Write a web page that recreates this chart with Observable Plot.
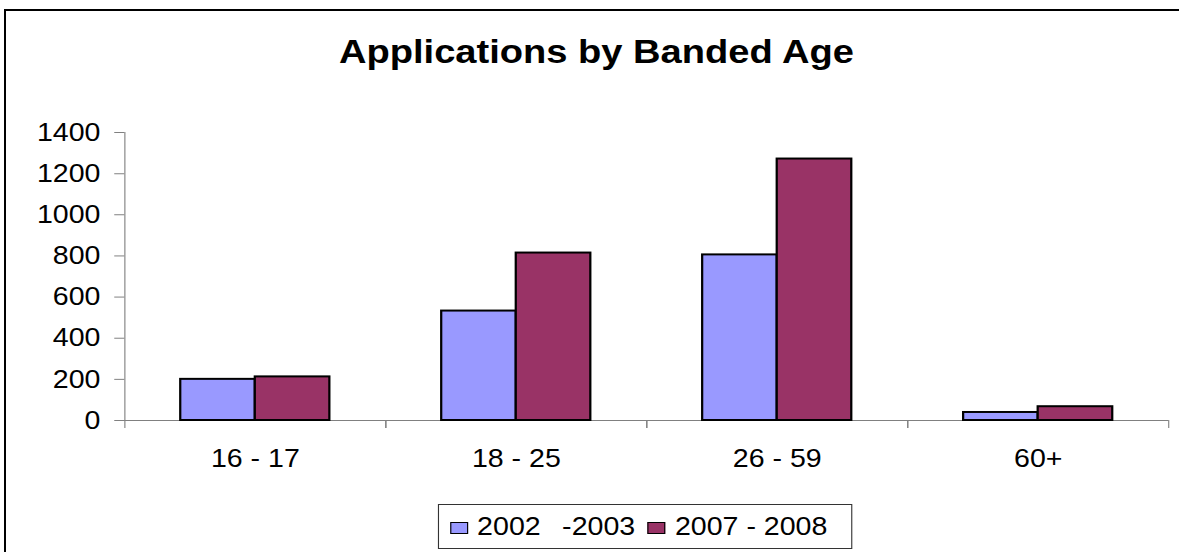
<!DOCTYPE html>
<html>
<head>
<meta charset="utf-8">
<script src="https://cdn.jsdelivr.net/npm/d3@7"></script>
<script src="https://cdn.jsdelivr.net/npm/@observablehq/plot@0.6"></script>
<style>
  html, body { margin: 0; padding: 0; background: #fff; overflow: hidden; }
  body { position: relative; width: 1179px; height: 552px; }
  /* outer chart frame; its right and bottom edges run past the page */
  #border {
    position: absolute;
    left: 4px; top: 9px;
    width: 1400px; height: 800px;
    border-left: 2.6px solid #000;
    border-top: 2.5px solid #000;
  }
  /* The figure is laid out on a narrower canvas and widened horizontally */
  #figure {
    position: absolute;
    left: 0; top: 0;
    width: 1070px;
    height: 552px;
    transform: scaleX(1.12);
    transform-origin: 0 0;
    font-family: "Liberation Sans", Arial, sans-serif;
    color: #000;
  }
  #title {
    height: 100px;
    box-sizing: border-box;
    padding-top: 34.2px;
    padding-left: 12px;
    width: 1053px;
    text-align: center;
    font-size: 34px;
    line-height: 34px;
    font-weight: bold;
    white-space: nowrap;
  }
  #chart svg { display: block; }
  #chart svg text { fill: #000; }
  #legend {
    position: absolute;
    left: 391px; top: 504px;
    width: 370px; height: 45px;
    box-sizing: border-box;
    border: 1px solid #333;
    display: flex;
    align-items: center;
    font-size: 25.5px;
    white-space: pre;
    padding-left: 9.5px;
  }
  #legend .sw {
    display: inline-block;
    width: 16px; height: 12px;
    box-sizing: border-box;
    border: 1.5px solid #000;
    margin-right: 8.5px;
    margin-top: 3px;
  }
  #legend .item { display: flex; align-items: center; margin-right: 11px; }
  #legend .item:first-child .label { word-spacing: 2.5px; }
</style>
</head>
<body>
<div id="border"></div>
<div id="figure">
  <div id="title">Applications by Banded Age</div>
  <div id="chart"></div>
  <div id="legend"></div>
</div>
<script>
// Age bands and the two reporting periods
const ages = ["16 - 17", "18 - 25", "26 - 59", "60+"];
const periods = ["2002  -2003", "2007 - 2008"];
const apps2002 = [200, 532, 805, 39];
const apps2007 = [212, 814, 1271, 67];
const yTicks = [0, 200, 400, 600, 800, 1000, 1200, 1400];
const periodColors = ["#9999FF", "#993366"];

// Each bar occupies one slot inside its age band, with 0.75 slot of space on either side
const sideGap = 0.75;
const rows = ages.flatMap((age, i) =>
  [apps2002, apps2007].map((values, slot) => ({
    age, period: periods[slot], slot, value: values[i]
  }))
);

const axisGrey = "#808080";

const chart = Plot.plot({
  width: 1053,
  height: 380,
  marginTop: 32,
  marginBottom: 60,
  marginLeft: 110.7,
  marginRight: 10.1,
  style: {
    fontFamily: "'Liberation Sans', Arial, sans-serif",
    fontSize: "25.5px",
    color: axisGrey,
    background: "transparent"
  },
  fx: { domain: ages, padding: 0, label: null, tickSize: 0, tickPadding: 28 },
  x: { domain: [-sideGap, periods.length + sideGap], axis: null },
  y: {
    domain: [0, 1400], ticks: yTicks, tickFormat: d3.format("d"),
    tickSize: 9, tickPadding: 12.8, line: true, label: null
  },
  color: { domain: periods, range: periodColors },
  marks: [
    Plot.ruleY([0], { stroke: axisGrey, strokeWidth: 1 }),
    // category divider ticks along the baseline
    Plot.ruleX([-sideGap, periods.length + sideGap], {
      y1: 0, y2: 0, insetBottom: -8, stroke: axisGrey, strokeWidth: 1
    }),
    Plot.rect(rows, {
      fx: "age",
      x1: "slot",
      x2: d => d.slot + 1,
      y1: 0,
      y2: "value",
      fill: "period",
      stroke: "#000",
      strokeWidth: 2
    })
  ]
});
document.getElementById("chart").appendChild(chart);

// Legend beneath the plot
const legend = d3.select("#legend");
periods.forEach((p, i) => {
  const item = legend.append("span").attr("class", "item");
  item.append("span").attr("class", "sw").style("background", periodColors[i]);
  item.append("span").attr("class", "label").text(p);
});
</script>
</body>
</html>
